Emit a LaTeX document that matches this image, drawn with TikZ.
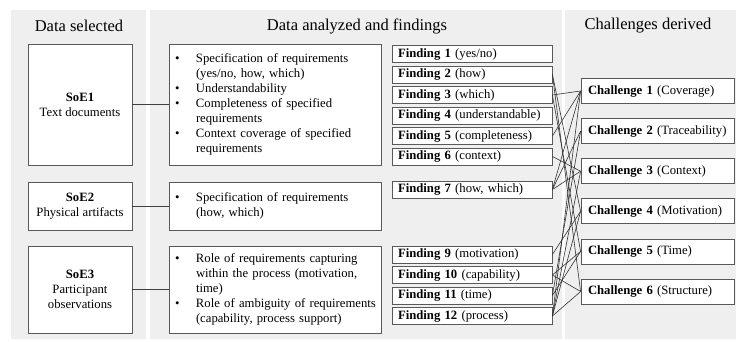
\documentclass[tikz,border=0pt]{standalone}
\usepackage{fontspec}
\setmainfont{Liberation Serif}
\usepackage{tikz}
\definecolor{panel}{HTML}{EFEFEF}

\begin{document}
\begin{tikzpicture}[x=1pt,y=-1pt,line width=0.8pt,
box/.style={draw=black!65,fill=white,inner sep=0pt,font=\fontsize{12.7}{15}\selectfont},
head/.style={font=\fontsize{16.5}{19}\selectfont},
src/.style={box,minimum width=104pt,align=center},
lst/.style={box,text width=200pt,inner xsep=6pt,align=left},
fnd/.style={box,minimum height=17pt,text width=148pt,inner xsep=6pt,align=left},
chl/.style={box,minimum height=25pt,text width=139pt,inner xsep=7pt,align=left}]
\useasboundingbox (0,0) rectangle (736,341);
\fill[panel] (11,10) rectangle (146,339) (150,10) rectangle (562,339) (565,10) rectangle (736,339);
\node[head] (h1) at (79,26) {Data selected};
\node[head] (h2) at (357,26) {Data analyzed and findings};
\node[head] (h3) at (648,26) {Challenges derived};
% sources of evidence
\node[src,minimum height=121pt] (s1) at (80,104.5) {\textbf{SoE1}\\Text documents};
\node[src,minimum height=48pt] (s2) at (80,206) {\textbf{SoE2}\\Physical artifacts};
\node[src,minimum height=87pt] (s3) at (80,289.5) {\textbf{SoE3}\\Participant\\observations};
% analyzed data
\node[lst,minimum height=121pt] (t1) at (275,104.5) {\begin{tabular}{@{}p{21pt}@{}l@{}}
\textbullet & Specification of requirements\\ & (yes/no, how, which)\\
\textbullet & Understandability\\
\textbullet & Completeness of specified\\ & requirements\\
\textbullet & Context coverage of specified\\ & requirements\end{tabular}};
\node[lst,minimum height=48pt] (t2) at (275,206) {\begin{tabular}{@{}p{21pt}@{}l@{}}
\textbullet & Specification of requirements\\ & (how, which)\end{tabular}};
\node[lst,minimum height=87pt] (t3) at (275,289.5) {\begin{tabular}{@{}p{21pt}@{}l@{}}
\textbullet & Role of requirements capturing\\ & within the process (motivation,\\ & time)\\
\textbullet & Role of ambiguity of requirements\\ & (capability, process support)\end{tabular}};
\foreach \i in {1,2,3}{\draw[black!75] (s\i) -- (t\i);};
% findings
\foreach \n/\y/\t in {1/54/{yes/no},2/74.5/how,3/95/which,4/115.5/understandable,5/136/completeness,6/156.5/context,7/189.5/{how, which},9/254.5/motivation,10/275/capability,11/295.5/time,12/316/process}{\node[fnd] (f\n) at (472,\y) {\textbf{Finding \n} (\t)};};
% challenges
\foreach \n/\t in {1/Coverage,2/Traceability,3/Context,4/Motivation,5/Time,6/Structure}{\node[chl] (c\n) at (657.5,{91+40.1*(\n-1)}) {\textbf{Challenge \n} (\t)};};
\foreach \f/\c in {2/4,2/6,3/1,3/5,5/1,6/3,7/1,7/2,7/3,9/4,10/5,10/6,11/2,11/5,12/1,12/3,12/4,12/6}{\draw[black!80,line width=0.6pt] (f\f.east) -- (c\c.west);};
\end{tikzpicture}
\end{document}
